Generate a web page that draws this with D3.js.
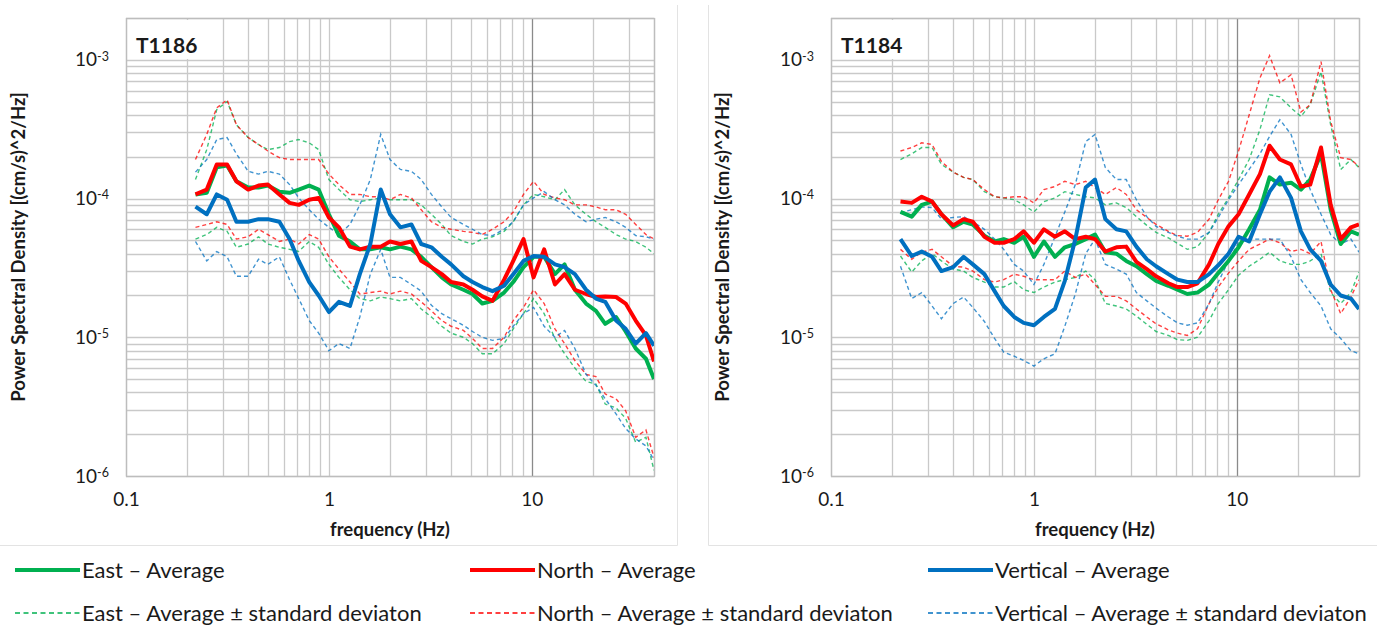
<!DOCTYPE html>
<html>
<head>
<meta charset="utf-8">
<title>PSD T1186 / T1184</title>
<script src="https://d3js.org/d3.v7.min.js"></script>
<style>
  body { margin: 0; background: #fff; }
  text { font-family: Lato, "Open Sans", sans-serif; fill: #1a1a1a; }
</style>
</head>
<body>
<svg id="chart" width="1377" height="626"></svg>
<script>
// frequency grid (Hz), shared by every series
const freq = [0.22, 0.25, 0.28, 0.315, 0.35, 0.4, 0.45, 0.5, 0.57, 0.64,
  0.71, 0.8, 0.89, 1, 1.12, 1.27, 1.42, 1.6, 1.8, 2,
  2.25, 2.55, 2.85, 3.2, 3.6, 4, 4.6, 5.1, 5.7, 6.4,
  7.3, 8.1, 9.1, 10.2, 11.5, 13, 14.5, 16.3, 18.5, 20.7,
  23, 26, 29, 32.5, 36.5, 40];

// ---- T1186 ----
const t1186East = [1.07e-4, 1.1e-4, 1.68e-4, 1.73e-4, 1.33e-4, 1.2e-4, 1.2e-4, 1.24e-4, 1.12e-4, 1.1e-4,
  1.16e-4, 1.24e-4, 1.16e-4, 7.7e-5, 5.4e-5, 4.9e-5, 4.3e-5, 4.3e-5, 4.45e-5, 4.3e-5,
  4.5e-5, 4.3e-5, 3.8e-5, 3.2e-5, 2.7e-5, 2.4e-5, 2.2e-5, 2.05e-5, 1.75e-5, 1.83e-5,
  2.1e-5, 2.5e-5, 3.2e-5, 3.8e-5, 3.8e-5, 2.85e-5, 3.35e-5, 2.2e-5, 1.75e-5, 1.55e-5,
  1.25e-5, 1.4e-5, 1.1e-5, 8.3e-6, 7.0e-6, 5.0e-6];
const t1186North = [1.07e-4, 1.16e-4, 1.76e-4, 1.76e-4, 1.33e-4, 1.16e-4, 1.24e-4, 1.26e-4, 1.07e-4, 9.3e-5,
  9.0e-5, 9.8e-5, 1.01e-4, 7.3e-5, 6.2e-5, 4.5e-5, 4.3e-5, 4.5e-5, 4.5e-5, 4.9e-5,
  4.7e-5, 4.9e-5, 3.55e-5, 3.2e-5, 2.85e-5, 2.5e-5, 2.4e-5, 2.2e-5, 1.97e-5, 1.83e-5,
  2.6e-5, 3.55e-5, 5.1e-5, 2.7e-5, 4.3e-5, 2.4e-5, 2.85e-5, 2.2e-5, 2.05e-5, 1.95e-5,
  1.97e-5, 1.95e-5, 1.75e-5, 1.32e-5, 1.03e-5, 6.7e-6];
const t1186Vert = [8.75e-5, 7.7e-5, 1.07e-4, 9.8e-5, 6.8e-5, 6.8e-5, 7.1e-5, 7.1e-5, 6.8e-5, 5.1e-5,
  3.55e-5, 2.5e-5, 2.0e-5, 1.52e-5, 1.8e-5, 1.68e-5, 2.85e-5, 4.7e-5, 1.16e-4, 7.7e-5,
  6.2e-5, 6.5e-5, 4.7e-5, 4.45e-5, 3.8e-5, 3.35e-5, 2.75e-5, 2.5e-5, 2.3e-5, 2.15e-5,
  2.35e-5, 2.85e-5, 3.55e-5, 3.85e-5, 3.8e-5, 3.35e-5, 3.2e-5, 2.85e-5, 2.2e-5, 1.9e-5,
  1.8e-5, 1.32e-5, 1.15e-5, 9.0e-6, 1.07e-5, 8.7e-6];
const t1186EastHi = [1.37e-4, 2.25e-4, 4.37e-4, 5.0e-4, 3.4e-4, 2.75e-4, 2.45e-4, 2.25e-4, 2.33e-4, 2.57e-4,
  2.66e-4, 2.52e-4, 2.25e-4, 1.37e-4, 1.16e-4, 9.8e-5, 9.5e-5, 9.8e-5, 1.01e-4, 9.8e-5,
  9.8e-5, 9.8e-5, 9.0e-5, 7.7e-5, 6.5e-5, 5.4e-5, 4.9e-5, 4.7e-5, 5.1e-5, 5.3e-5,
  5.8e-5, 6.8e-5, 9.0e-5, 1.07e-4, 1.03e-4, 9.8e-5, 1.16e-4, 9.0e-5, 7.7e-5, 6.8e-5,
  6.2e-5, 5.5e-5, 5.1e-5, 4.9e-5, 4.45e-5, 4.0e-5];
const t1186NorthHi = [1.91e-4, 2.9e-4, 4.5e-4, 5.15e-4, 3.4e-4, 2.75e-4, 2.45e-4, 2.2e-4, 1.97e-4, 1.91e-4,
  1.91e-4, 1.91e-4, 1.91e-4, 1.5e-4, 1.26e-4, 1.07e-4, 1.07e-4, 1.03e-4, 1.03e-4, 9.8e-5,
  1.07e-4, 1.01e-4, 8.3e-5, 6.8e-5, 6.2e-5, 6.0e-5, 5.8e-5, 5.7e-5, 5.5e-5, 6.0e-5,
  6.8e-5, 8.0e-5, 1.07e-4, 1.33e-4, 1.07e-4, 1.01e-4, 9.8e-5, 9.0e-5, 9.0e-5, 8.7e-5,
  8.3e-5, 8.3e-5, 7.7e-5, 6.5e-5, 5.5e-5, 5.1e-5];
const t1186VertHi = [1.55e-4, 1.91e-4, 2.66e-4, 2.75e-4, 2.1e-4, 1.57e-4, 1.5e-4, 1.57e-4, 1.5e-4, 1.26e-4,
  1.01e-4, 8.3e-5, 7.1e-5, 6.2e-5, 5.5e-5, 6.5e-5, 9.0e-5, 1.37e-4, 2.9e-4, 1.91e-4,
  1.62e-4, 1.57e-4, 1.37e-4, 1.07e-4, 8.7e-5, 7.3e-5, 6.5e-5, 6.0e-5, 5.5e-5, 5.4e-5,
  6.0e-5, 6.8e-5, 9.0e-5, 1.01e-4, 1.12e-4, 9.8e-5, 9.0e-5, 7.7e-5, 6.8e-5, 7.1e-5,
  7.3e-5, 6.8e-5, 6.2e-5, 5.4e-5, 5.3e-5, 5.1e-5];
const t1186EastLo = [5.1e-5, 5.5e-5, 6.2e-5, 5.8e-5, 4.45e-5, 4.7e-5, 5.3e-5, 4.7e-5, 4.45e-5, 4.3e-5,
  4.15e-5, 4.9e-5, 4.45e-5, 3.35e-5, 2.7e-5, 2.2e-5, 1.9e-5, 1.83e-5, 1.95e-5, 1.9e-5,
  1.83e-5, 1.9e-5, 1.6e-5, 1.4e-5, 1.2e-5, 1.07e-5, 1.0e-5, 9.0e-6, 7.6e-6, 7.6e-6,
  9.0e-6, 1.15e-5, 1.48e-5, 1.9e-5, 1.48e-5, 9.8e-6, 7.6e-6, 6.0e-6, 4.8e-6, 4.6e-6,
  3.3e-6, 3.1e-6, 2.6e-6, 1.75e-6, 1.9e-6, 1.1e-6];
const t1186NorthLo = [6.2e-5, 6.5e-5, 6.8e-5, 6.5e-5, 5.1e-5, 5.3e-5, 6.0e-5, 5.5e-5, 4.9e-5, 5.1e-5,
  4.7e-5, 5.5e-5, 5.1e-5, 3.8e-5, 3.1e-5, 2.5e-5, 2.05e-5, 2.1e-5, 2.15e-5, 2.05e-5,
  2.15e-5, 2.05e-5, 1.8e-5, 1.55e-5, 1.32e-5, 1.2e-5, 1.12e-5, 9.8e-6, 8.3e-6, 8.3e-6,
  1.0e-5, 1.32e-5, 1.64e-5, 2.2e-5, 1.75e-5, 1.15e-5, 9.0e-6, 6.8e-6, 5.4e-6, 5.2e-6,
  3.9e-6, 3.6e-6, 2.95e-6, 1.9e-6, 2.15e-6, 1.36e-6];
const t1186VertLo = [4.9e-5, 3.55e-5, 4.15e-5, 3.8e-5, 2.75e-5, 2.75e-5, 3.65e-5, 3.35e-5, 3.8e-5, 2.6e-5,
  1.9e-5, 1.32e-5, 1.07e-5, 8.0e-6, 9.0e-6, 8.3e-6, 1.4e-5, 2.85e-5, 4.3e-5, 2.7e-5,
  2.7e-5, 2.4e-5, 2.15e-5, 1.7e-5, 1.48e-5, 1.36e-5, 1.22e-5, 1.1e-5, 1.0e-5, 9.5e-6,
  9.8e-6, 1.2e-5, 1.48e-5, 1.64e-5, 1.2e-5, 1.0e-5, 1.12e-5, 8.3e-6, 5.4e-6, 4.5e-6,
  3.6e-6, 2.8e-6, 2.2e-6, 1.85e-6, 1.65e-6, 1.3e-6];

// ---- T1184 ----
const t1184East = [8.0e-5, 7.4e-5, 9.0e-5, 9.5e-5, 7.7e-5, 6.2e-5, 6.8e-5, 6.5e-5, 5.4e-5, 4.9e-5,
  5.1e-5, 4.8e-5, 5.3e-5, 3.8e-5, 4.9e-5, 3.8e-5, 4.45e-5, 4.7e-5, 5.1e-5, 5.5e-5,
  4.1e-5, 4.0e-5, 3.55e-5, 3.25e-5, 2.85e-5, 2.55e-5, 2.35e-5, 2.2e-5, 2.05e-5, 2.1e-5,
  2.4e-5, 2.9e-5, 3.55e-5, 4.45e-5, 6.0e-5, 8.3e-5, 1.42e-4, 1.26e-4, 1.3e-4, 1.16e-4,
  1.37e-4, 2.1e-4, 8.3e-5, 4.7e-5, 5.8e-5, 5.5e-5];
const t1184North = [9.5e-5, 9.3e-5, 1.03e-4, 9.5e-5, 7.7e-5, 6.4e-5, 7.1e-5, 6.8e-5, 5.3e-5, 4.8e-5,
  4.8e-5, 5.1e-5, 5.8e-5, 4.8e-5, 6.0e-5, 5.3e-5, 5.8e-5, 5.1e-5, 5.3e-5, 5.1e-5,
  4.15e-5, 4.45e-5, 4.5e-5, 3.5e-5, 3.1e-5, 2.75e-5, 2.45e-5, 2.3e-5, 2.3e-5, 2.45e-5,
  3.35e-5, 4.7e-5, 6.3e-5, 7.7e-5, 1.07e-4, 1.5e-4, 2.4e-4, 1.91e-4, 1.76e-4, 1.22e-4,
  1.26e-4, 2.33e-4, 9.0e-5, 5.1e-5, 6.2e-5, 6.5e-5];
const t1184Vert = [5.1e-5, 3.85e-5, 4.15e-5, 3.8e-5, 3.0e-5, 3.2e-5, 3.8e-5, 3.35e-5, 2.85e-5, 2.15e-5,
  1.68e-5, 1.4e-5, 1.27e-5, 1.22e-5, 1.4e-5, 1.6e-5, 2.55e-5, 5.1e-5, 1.2e-4, 1.37e-4,
  7.1e-5, 6.0e-5, 5.8e-5, 4.5e-5, 3.65e-5, 3.25e-5, 2.85e-5, 2.6e-5, 2.5e-5, 2.5e-5,
  2.85e-5, 3.3e-5, 4.0e-5, 5.3e-5, 4.9e-5, 7.7e-5, 1.12e-4, 1.42e-4, 1.01e-4, 5.8e-5,
  4.3e-5, 3.55e-5, 2.4e-5, 2.0e-5, 1.9e-5, 1.6e-5];
const t1184EastHi = [1.91e-4, 2.1e-4, 2.33e-4, 2.33e-4, 1.76e-4, 1.55e-4, 1.42e-4, 1.37e-4, 1.12e-4, 1.03e-4,
  1.01e-4, 9.8e-5, 9.0e-5, 8.0e-5, 9.5e-5, 1.01e-4, 1.12e-4, 1.07e-4, 1.03e-4, 1.01e-4,
  9.0e-5, 9.3e-5, 8.6e-5, 7.4e-5, 6.4e-5, 5.7e-5, 5.2e-5, 4.75e-5, 4.3e-5, 4.5e-5,
  5.7e-5, 7.7e-5, 1.01e-4, 1.37e-4, 1.91e-4, 3.14e-4, 5.6e-4, 5.4e-4, 4.5e-4, 3.9e-4,
  4.75e-4, 8.2e-4, 3.4e-4, 1.62e-4, 1.91e-4, 1.67e-4];
const t1184NorthHi = [2.2e-4, 2.33e-4, 2.52e-4, 2.45e-4, 1.85e-4, 1.55e-4, 1.42e-4, 1.37e-4, 1.16e-4, 1.03e-4,
  1.01e-4, 1.03e-4, 1.03e-4, 9.3e-5, 1.16e-4, 1.22e-4, 1.33e-4, 1.26e-4, 1.33e-4, 1.2e-4,
  1.07e-4, 1.2e-4, 1.07e-4, 8.3e-5, 7.3e-5, 6.5e-5, 5.8e-5, 5.4e-5, 5.35e-5, 5.7e-5,
  7.1e-5, 9.8e-5, 1.33e-4, 2.2e-4, 4.0e-4, 7.4e-4, 1.07e-3, 6.8e-4, 7.8e-4, 4.2e-4,
  4.75e-4, 9.7e-4, 3.6e-4, 1.97e-4, 1.91e-4, 1.7e-4];
const t1184VertHi = [7.9e-5, 8.3e-5, 8.7e-5, 8.6e-5, 7.1e-5, 7.3e-5, 7.4e-5, 6.8e-5, 6.0e-5, 5.1e-5,
  4.3e-5, 3.35e-5, 3.0e-5, 2.4e-5, 3.35e-5, 5.3e-5, 8.0e-5, 1.26e-4, 2.57e-4, 2.9e-4,
  1.67e-4, 1.37e-4, 1.37e-4, 9.8e-5, 7.4e-5, 6.3e-5, 5.7e-5, 5.35e-5, 5.1e-5, 5.1e-5,
  5.7e-5, 7.3e-5, 9.8e-5, 1.26e-4, 1.62e-4, 2.1e-4, 2.8e-4, 3.7e-4, 2.9e-4, 1.76e-4,
  1.16e-4, 7.7e-5, 5.5e-5, 4.7e-5, 5.1e-5, 4.1e-5];
const t1184EastLo = [3.85e-5, 2.95e-5, 3.55e-5, 4.0e-5, 3.55e-5, 3.1e-5, 3.0e-5, 2.7e-5, 2.5e-5, 2.3e-5,
  2.3e-5, 2.52e-5, 2.2e-5, 2.1e-5, 2.3e-5, 2.5e-5, 2.6e-5, 2.7e-5, 3.0e-5, 2.6e-5,
  1.75e-5, 1.68e-5, 1.6e-5, 1.42e-5, 1.24e-5, 1.1e-5, 1.03e-5, 9.6e-6, 9.5e-6, 1.0e-5,
  1.32e-5, 1.75e-5, 2.2e-5, 2.8e-5, 3.25e-5, 3.65e-5, 4.1e-5, 3.55e-5, 3.35e-5, 3.35e-5,
  3.55e-5, 4.0e-5, 2.1e-5, 1.75e-5, 2.1e-5, 2.95e-5];
const t1184NorthLo = [4.3e-5, 3.65e-5, 4.1e-5, 4.3e-5, 3.8e-5, 3.25e-5, 3.2e-5, 3.0e-5, 2.6e-5, 2.5e-5,
  2.6e-5, 2.85e-5, 2.75e-5, 2.6e-5, 2.6e-5, 2.6e-5, 3.0e-5, 2.7e-5, 2.85e-5, 2.4e-5,
  1.97e-5, 1.97e-5, 1.83e-5, 1.6e-5, 1.4e-5, 1.25e-5, 1.13e-5, 1.07e-5, 1.03e-5, 1.15e-5,
  1.75e-5, 2.3e-5, 2.9e-5, 3.55e-5, 4.3e-5, 4.7e-5, 5.1e-5, 4.8e-5, 4.15e-5, 4.3e-5,
  4.0e-5, 4.9e-5, 2.2e-5, 1.48e-5, 1.95e-5, 2.6e-5];
const t1184VertLo = [3.25e-5, 1.9e-5, 2.1e-5, 1.68e-5, 1.36e-5, 1.75e-5, 1.95e-5, 1.64e-5, 1.3e-5, 9.8e-6,
  7.8e-6, 7.3e-6, 6.8e-6, 6.2e-6, 7.0e-6, 7.6e-6, 1.2e-5, 2.05e-5, 4.0e-5, 5.1e-5,
  3.35e-5, 3.1e-5, 2.85e-5, 2.1e-5, 1.83e-5, 1.62e-5, 1.4e-5, 1.27e-5, 1.22e-5, 1.27e-5,
  1.75e-5, 2.5e-5, 3.55e-5, 4.8e-5, 5.1e-5, 5.1e-5, 5.1e-5, 5.1e-5, 3.8e-5, 2.6e-5,
  2.1e-5, 1.68e-5, 1.15e-5, 9.8e-6, 8.0e-6, 7.6e-6];

// axis ticks
const xTickValues = [0.1, 1, 10];
const xTickLabels = ["0.1", "1", "10"];
const yTickValues = [1e-6, 1e-5, 1e-4, 1e-3];
const yTickExps = ["-6", "-5", "-4", "-3"];

const GREEN = "#00b050", RED = "#ff0000", BLUE = "#0070c0";

const svg = d3.select("#chart");
svg.append("rect").attr("width", 1377).attr("height", 626).attr("fill", "#fff");

// chart-area frames (only the visible edges)
const frame = svg.append("g").attr("stroke", "#e3e3e3").attr("fill", "none");
frame.append("path").attr("d", "M0,545.5H677.5V5");
frame.append("path").attr("d", "M708.5,5V545.5H1377");

const plotW = 528, plotTop = 18, plotBottom = 476;

const panels = [
  { name: "T1186", left: 126, titleX: 20,
    east: t1186East, north: t1186North, vert: t1186Vert,
    eastHi: t1186EastHi, northHi: t1186NorthHi, vertHi: t1186VertHi,
    eastLo: t1186EastLo, northLo: t1186NorthLo, vertLo: t1186VertLo },
  { name: "T1184", left: 831, titleX: 724,
    east: t1184East, north: t1184North, vert: t1184Vert,
    eastHi: t1184EastHi, northHi: t1184NorthHi, vertHi: t1184VertHi,
    eastLo: t1184EastLo, northLo: t1184NorthLo, vertLo: t1184VertLo }
];

panels.forEach((p, pi) => {
  const x = d3.scaleLog().domain([0.1, 40]).range([p.left, p.left + plotW]);
  const y = d3.scaleLog().domain([1e-6, 2e-3]).range([plotBottom, plotTop]);
  const g = svg.append("g");

  // gridlines
  g.append("g").selectAll("line").data(y.ticks()).join("line")
    .attr("x1", p.left).attr("x2", p.left + plotW)
    .attr("y1", d => Math.round(y(d)) + 0.5).attr("y2", d => Math.round(y(d)) + 0.5)
    .attr("stroke", "#c9c9c9").attr("stroke-width", 1.3);
  g.append("g").selectAll("line").data(x.ticks()).join("line")
    .attr("x1", d => Math.round(x(d)) + 0.5).attr("x2", d => Math.round(x(d)) + 0.5)
    .attr("y1", plotTop).attr("y2", plotBottom)
    .attr("stroke", d => Math.abs(d - 10) < 1e-9 ? "#8a8a8a" : "#c9c9c9")
    .attr("stroke-width", 1.3);
  g.append("rect")
    .attr("x", p.left + 0.5).attr("y", plotTop + 0.5)
    .attr("width", plotW).attr("height", plotBottom - plotTop)
    .attr("fill", "none").attr("stroke", "#bdbdbd").attr("stroke-width", 1.3);

  // clip
  const clipId = "clip" + pi;
  svg.append("clipPath").attr("id", clipId).append("rect")
    .attr("x", p.left).attr("y", plotTop).attr("width", plotW).attr("height", plotBottom - plotTop);

  const line = d3.line().x((d, i) => x(freq[i])).y(d => y(d));
  const lines = g.append("g").attr("clip-path", `url(#${clipId})`).attr("fill", "none");

  const dashed = [[p.eastHi, GREEN], [p.eastLo, GREEN], [p.northHi, RED], [p.northLo, RED], [p.vertHi, BLUE], [p.vertLo, BLUE]];
  dashed.forEach(([vals, c]) => {
    lines.append("path").attr("d", line(vals))
      .attr("stroke", c).attr("stroke-width", 1.4).attr("stroke-opacity", 0.75)
      .attr("stroke-dasharray", "4 3");
  });
  [[p.east, GREEN], [p.north, RED], [p.vert, BLUE]].forEach(([vals, c]) => {
    lines.append("path").attr("d", line(vals))
      .attr("stroke", c).attr("stroke-width", 4).attr("stroke-linejoin", "round");
  });

  // panel label
  g.append("rect").attr("x", p.left + 2).attr("y", plotTop + 2).attr("width", 78).attr("height", 39).attr("fill", "#fff");
  g.append("text").attr("x", p.left + 10).attr("y", 53)
    .attr("font-size", 21).attr("font-weight", "bold").text(p.name);

  // x axis labels
  const xAxis = g.append("g").attr("transform", `translate(0,${plotBottom})`)
    .call(d3.axisBottom(x).tickValues(xTickValues).tickFormat((d, i) => xTickLabels[i]).tickSize(0).tickPadding(17));
  xAxis.select(".domain").remove();
  xAxis.selectAll("text").attr("font-size", 19).attr("font-family", "Lato, 'Open Sans', sans-serif").attr("fill", "#1a1a1a");

  // y axis labels with superscript exponent
  const yAxis = g.append("g").attr("transform", `translate(${p.left},0)`)
    .call(d3.axisLeft(y).tickValues(yTickValues).tickFormat(() => "").tickSize(0).tickPadding(17));
  yAxis.select(".domain").remove();
  yAxis.selectAll(".tick text").each(function (d) {
    const t = d3.select(this).attr("font-size", 19).attr("font-family", "Lato, 'Open Sans', sans-serif").attr("fill", "#1a1a1a");
    const i = yTickValues.indexOf(d);
    t.append("tspan").text("10");
    t.append("tspan").attr("dy", "-0.45em").attr("font-size", 12.5).text(yTickExps[i]);
  });

  // titles
  g.append("text").attr("x", p.left + plotW / 2).attr("y", 536)
    .attr("text-anchor", "middle").attr("font-size", 18.5).attr("font-weight", "bold").text("frequency (Hz)");
  g.append("text").attr("transform", `translate(${p.titleX + 5},${(plotTop + plotBottom) / 2}) rotate(-90)`)
    .attr("text-anchor", "middle").attr("font-size", 18.5).attr("font-weight", "bold")
    .text("Power Spectral Density [(cm/s)^2/Hz]");
});

// legend
const legendItems = [
  { label: "East – Average", color: GREEN, dash: false, x: 15, row: 0 },
  { label: "North – Average", color: RED, dash: false, x: 470, row: 0 },
  { label: "Vertical – Average", color: BLUE, dash: false, x: 928, row: 0 },
  { label: "East – Average ± standard deviaton", color: GREEN, dash: true, x: 15, row: 1 },
  { label: "North – Average ± standard deviaton", color: RED, dash: true, x: 470, row: 1 },
  { label: "Vertical – Average ± standard deviaton", color: BLUE, dash: true, x: 928, row: 1 }
];
const lg = svg.append("g");
legendItems.forEach(d => {
  const yy = d.row === 0 ? 570 : 613;
  lg.append("line").attr("x1", d.x).attr("x2", d.x + 65).attr("y1", yy).attr("y2", yy)
    .attr("stroke", d.color).attr("stroke-width", d.dash ? 1.6 : 4)
    .attr("stroke-dasharray", d.dash ? "5 3.5" : null);
  lg.append("text").attr("x", d.x + 67).attr("y", yy).attr("dy", "0.35em")
    .attr("font-size", 22).text(d.label);
});
</script>
</body>
</html>
